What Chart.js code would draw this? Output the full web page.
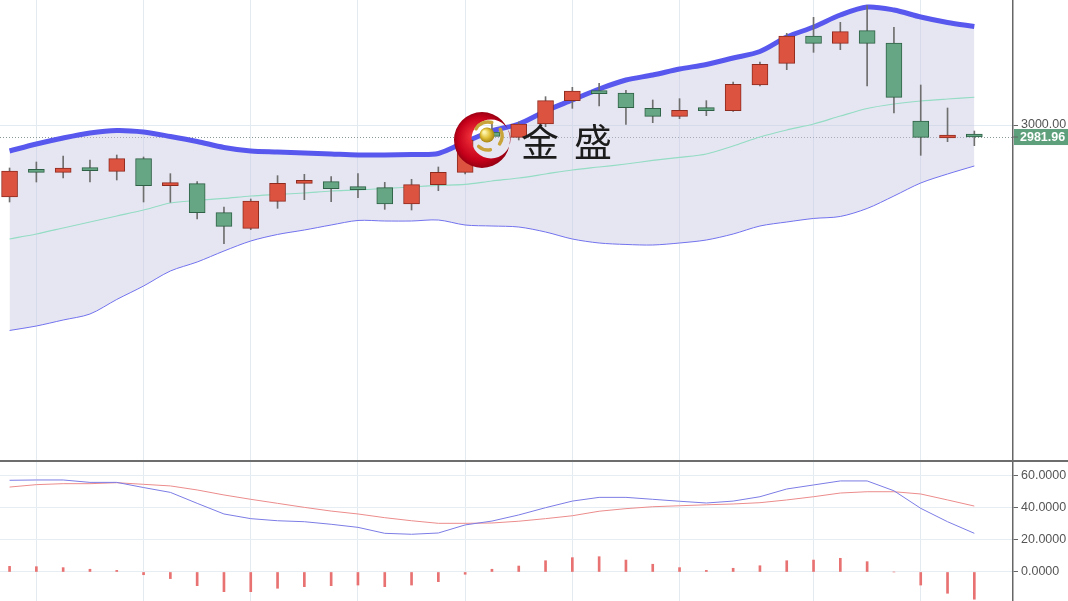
<!DOCTYPE html>
<html>
<head>
<meta charset="utf-8">
<script src="https://cdn.jsdelivr.net/npm/chart.js@4.4.1/dist/chart.umd.min.js"></script>
<style>
body{margin:0;background:#fff;overflow:hidden;}
#wrap{position:relative;width:1068px;height:601px;overflow:hidden;}
#main{position:absolute;left:0;top:0;}
#sub{position:absolute;left:0;top:460px;}
</style>
</head>
<body>
<div id="wrap">
<canvas id="main" width="1068" height="460"></canvas>
<canvas id="sub" width="1068" height="141"></canvas>
</div>
<script>
// daily candles (price)
var opens  = [2892, 2932, 2929, 2934, 2930.5, 2949.5, 2909, 2912, 2868.5, 2845, 2885.5, 2912.5, 2915, 2905, 2906, 2881.5, 2910.5, 2929, 2989.5, 2981.5, 3001.5, 3036.5, 3051, 3048, 3025, 3013, 3022.5, 3021.5, 3060, 3092.5, 3133.5, 3122.5, 3141.5, 3123, 3006, 2980.5, 2983];
var highs  = [2935.5, 2944.5, 2953.5, 2947.5, 2955, 2952, 2927, 2915, 2877, 2889, 2924, 2926, 2922.5, 2927, 2914, 2918.5, 2937, 2985, 3004.5, 3004.5, 3042.5, 3056.5, 3062.5, 3052, 3037.5, 3039.5, 3036.5, 3064.5, 3094.5, 3137.5, 3161.5, 3154, 3179, 3146.5, 3060, 3025.5, 2991];
var lows   = [2884.5, 2914.5, 2920.5, 2914.5, 2917.5, 2884.5, 2884, 2859, 2822, 2843, 2875, 2888, 2885, 2891, 2873.5, 2872.5, 2901.5, 2926.5, 2979, 2977.5, 2997.5, 3025, 3028.5, 3001, 3003.5, 3009.5, 3014, 3020.5, 3058.5, 3083, 3109, 3113, 3058.5, 3018, 2954.5, 2975, 2969];
var closes = [2931, 2929, 2935.5, 2931.5, 2949.5, 2909, 2911, 2868.5, 2848, 2886, 2912.5, 2914.5, 2904.5, 2903, 2881.5, 2910.5, 2929, 2977.5, 2983, 3001.5, 3036.5, 3051, 3047, 3026, 3013, 3022, 3021.5, 3061, 3091, 3133.5, 3122.5, 3140, 3122.5, 3041.5, 2981.5, 2982, 2981.96];

// bollinger bands
var upperBand = [2961, 2971.5, 2980.5, 2988, 2991.8, 2989.5, 2982.8, 2975.3, 2966.3, 2961, 2959.5, 2958, 2956.5, 2955, 2955, 2955.8, 2957.3, 2974.5, 2991, 3001.5, 3021, 3037.5, 3054, 3067.5, 3075, 3084, 3090.8, 3100.5, 3110.3, 3132, 3147, 3165, 3177, 3172.5, 3162, 3153.8, 3147.8];
var midBand   = [2829, 2836.5, 2845.5, 2854.5, 2863.5, 2872.5, 2883, 2886.8, 2889.8, 2893.5, 2895.8, 2898, 2901, 2902.5, 2904.8, 2907, 2909.3, 2910.8, 2916, 2920.5, 2926.5, 2932.5, 2937, 2941.5, 2946.8, 2951.3, 2956.5, 2968.5, 2982, 2992.5, 3001.5, 3013.5, 3024.8, 3031.5, 3036, 3039, 3041.6];
var lowerBand = [2691.8, 2698.5, 2707.5, 2716.5, 2738.3, 2758.5, 2781, 2794.5, 2811, 2826, 2835.8, 2842.5, 2850, 2856.8, 2856, 2856, 2857.5, 2850, 2848.5, 2847, 2839.5, 2829, 2823, 2820.8, 2820, 2823, 2827.5, 2836.5, 2848.5, 2854.5, 2859.8, 2862.8, 2874.8, 2893.5, 2913, 2926.5, 2938.5];

// lower panel
var dif  = [56.9, 57.1, 57.1, 55.6, 55.6, 52.4, 49.4, 42.6, 36, 33.1, 31.8, 31.2, 29.6, 27.7, 24, 23.4, 24.2, 29.2, 31.6, 35.4, 39.9, 44, 46.3, 46.3, 45.1, 43.9, 42.8, 44, 46.7, 51.5, 54, 56.5, 56.5, 50.4, 39.5, 31.2, 24];
var dea  = [52.7, 54.2, 54.8, 54.8, 55.4, 54.4, 53.4, 50.9, 47.8, 45.1, 42.6, 40.1, 37.8, 36, 33.7, 31.8, 30.2, 30.2, 30.4, 31.5, 33.1, 34.9, 37.7, 39.3, 40.5, 41.1, 41.7, 42.2, 43, 44.7, 46.7, 49, 49.8, 49.8, 48.4, 44.7, 40.9];
var hist = [3.5, 3.3, 2.7, 1.7, 1.0, -1.7, -4.1, -8.5, -12.2, -12.2, -10.1, -9.1, -8.5, -8.1, -9.1, -8.1, -6.0, -1.4, 1.7, 3.7, 7.0, 8.9, 9.5, 7.4, 4.8, 2.7, 1.0, 2.3, 3.9, 7.0, 7.4, 8.5, 6.4, 0, -8.1, -13.2, -16.9];

var priceTicks = [3000];
var subTicks = [0, 20, 40, 60];
var gridIdx = [1, 5, 9, 13, 17, 21, 25, 30, 34];

var RED = '#dc5340', RED_EDGE = '#8e2b1f';
var GREEN = '#66a684', GREEN_EDGE = '#2f6146';
var tickFont = {family: 'Liberation Sans', size: 12.5};

function pts(arr){
    return arr.map(function(v, i){ return {x: i, y: v}; });
}

function xAxis(){
    return {
        type: 'linear', min: -0.357, max: 37.443, offset: false,
        grid: {color: '#e3eaf0', offset: false, drawTicks: false},
        border: {display: false},
        ticks: {display: false},
        afterBuildTicks: function(s){ s.ticks = gridIdx.map(function(v){ return {value: v}; }); },
        afterFit: function(s){ s.height = 0; }
    };
}

var upDown = closes.map(function(c, i){ return c >= opens[i]; });

var priceTag = {
    id: 'priceTag',
    beforeDatasetsDraw: function(chart){
        var c = chart.ctx, a = chart.chartArea;
        var y = Math.round(chart.scales.y.getPixelForValue(closes[closes.length - 1])) + 0.5;
        c.save();
        c.strokeStyle = '#8a9898';
        c.lineWidth = 1;
        c.setLineDash([1, 2]);
        c.beginPath(); c.moveTo(a.left, y); c.lineTo(a.right, y); c.stroke();
        c.restore();
    },
    afterDraw: function(chart){
        var c = chart.ctx, a = chart.chartArea;
        var last = closes[closes.length - 1];
        var y = chart.scales.y.getPixelForValue(last);
        c.save();
        c.fillStyle = '#5e9f7c';
        c.fillRect(a.right + 1, y - 8, 60, 16);
        c.strokeStyle = '#666';
        c.beginPath(); c.moveTo(a.right, y); c.lineTo(a.right + 5, y); c.stroke();
        c.fillStyle = '#fff';
        c.font = 'bold 12.5px "Liberation Sans"';
        c.textBaseline = 'middle';
        c.fillText(last.toFixed(2), a.right + 7, y + 0.5);
        c.restore();
    }
};

var logo = {
    id: 'logo',
    afterDatasetsDraw: function(chart){
        var c = chart.ctx;
        c.save();
        // red crescent
        var g = c.createRadialGradient(474, 136, 3, 482, 140, 30);
        g.addColorStop(0, '#f0303a');
        g.addColorStop(0.7, '#c4001a');
        g.addColorStop(1, '#8a0010');
        c.beginPath();
        c.arc(482, 140, 28, 0, Math.PI * 2);
        c.moveTo(510.5, 139);
        c.arc(491, 139, 19.5, 0, Math.PI * 2);
        c.fillStyle = g;
        c.fill('evenodd');
        // gold blades
        c.strokeStyle = '#c9a43a';
        c.lineWidth = 3.5;
        c.lineCap = 'round';
        [[-2.6, -1.3], [-0.5, 0.6], [1.4, 2.3]].forEach(function(r){
            c.beginPath();
            c.arc(488, 136, 14, r[0], r[1]);
            c.stroke();
        });
        // ball
        var b = c.createRadialGradient(484, 132, 1, 487, 135, 8);
        b.addColorStop(0, '#fff6b0');
        b.addColorStop(0.5, '#e2c23a');
        b.addColorStop(1, '#a07e10');
        c.beginPath();
        c.arc(487, 135, 7.5, 0, Math.PI * 2);
        c.fillStyle = b;
        c.fill();
        // name
        c.fillStyle = '#1c1c1c';
        c.font = '38px "Noto Sans CJK SC"';
        c.textBaseline = 'middle';
        c.fillText('金', 521, 142);
        c.fillText('盛', 574, 142);
        c.restore();
    }
};

var sepLine = {
    id: 'sepLine',
    afterDraw: function(chart){
        var c = chart.ctx;
        c.save();
        c.strokeStyle = '#6d6d6d';
        c.lineWidth = 2;
        c.beginPath(); c.moveTo(0, 1); c.lineTo(chart.width, 1); c.stroke();
        c.restore();
    }
};

function chart1(){
    var ctx = document.getElementById('main').getContext('2d');
    new Chart(ctx, {
        type: 'bar',
        data: {
            datasets: [{
                label: 'body',
                data: opens.map(function(o, i){ return {x: i, y: [o, closes[i]]}; }),
                backgroundColor: upDown.map(function(u){ return u ? RED : GREEN; }),
                borderColor: upDown.map(function(u){ return u ? RED_EDGE : GREEN_EDGE; }),
                borderWidth: 1,
                borderSkipped: false,
                minBarLength: 3,
                barThickness: 16,
                grouped: false
            }, {
                label: 'wick',
                data: lows.map(function(l, i){ return {x: i, y: [l, highs[i]]}; }),
                backgroundColor: '#6f6f6f',
                borderWidth: 0,
                barThickness: 1,
                grouped: false
            }, {
                type: 'line',
                label: 'upper',
                data: pts(upperBand),
                borderColor: '#5858ee',
                borderWidth: 5,
                pointRadius: 0,
                tension: 0.3,
                fill: false
            }, {
                type: 'line',
                label: 'mid',
                data: pts(midBand),
                borderColor: '#94dcc4',
                borderWidth: 1.2,
                pointRadius: 0,
                tension: 0.3,
                fill: false
            }, {
                type: 'line',
                label: 'lower',
                data: pts(lowerBand),
                borderColor: '#7272ee',
                borderWidth: 1,
                pointRadius: 0,
                tension: 0.3,
                fill: 2,
                backgroundColor: 'rgba(200, 200, 226, 0.45)'
            }]
        },
        options: {
            responsive: false,
            animation: false,
            devicePixelRatio: 1,
            layout: {padding: 0},
            plugins: {legend: {display: false}, tooltip: {enabled: false}},
            scales: {
                x: xAxis(),
                y: {
                    position: 'right', min: 2497.5, max: 3187.5,
                    grid: {color: '#e2ebf1', tickLength: 5, tickColor: '#666'},
                    border: {display: true, color: '#666', width: 1.5},
                    ticks: {color: '#555', font: tickFont, padding: 3, callback: function(v){ return v.toFixed(2); }},
                    afterBuildTicks: function(s){ s.ticks = priceTicks.map(function(v){ return {value: v}; }); },
                    afterFit: function(s){ s.width = 55; s.paddingTop = 0; s.paddingBottom = 0; }
                }
            }
        },
        plugins: [priceTag, logo]
    });
}
chart1()

function chart2(){
    var ctx = document.getElementById('sub').getContext('2d');
    new Chart(ctx, {
        type: 'bar',
        data: {
            datasets: [{
                label: 'macd',
                data: pts(hist),
                backgroundColor: '#e87272',
                barThickness: 2,
                grouped: false
            }, {
                type: 'line',
                label: 'dif',
                data: pts(dif),
                borderColor: '#7c7ce6',
                borderWidth: 1,
                pointRadius: 0,
                fill: false
            }, {
                type: 'line',
                label: 'dea',
                data: pts(dea),
                borderColor: '#ec8c8c',
                borderWidth: 1,
                pointRadius: 0,
                fill: false
            }]
        },
        options: {
            responsive: false,
            animation: false,
            devicePixelRatio: 1,
            layout: {padding: {top: 2}},
            plugins: {legend: {display: false}, tooltip: {enabled: false}},
            scales: {
                x: xAxis(),
                y: {
                    position: 'right', min: -18, max: 68.25,
                    grid: {color: '#e6eef3', tickLength: 5, tickColor: '#666'},
                    border: {display: true, color: '#666', width: 1.5},
                    ticks: {color: '#555', font: tickFont, padding: 3, callback: function(v){ return v.toFixed(4); }},
                    afterBuildTicks: function(s){ s.ticks = subTicks.map(function(v){ return {value: v}; }); },
                    afterFit: function(s){ s.width = 55; s.paddingTop = 0; s.paddingBottom = 0; }
                }
            }
        },
        plugins: [sepLine]
    });
}
chart2()
</script>
</body>
</html>
